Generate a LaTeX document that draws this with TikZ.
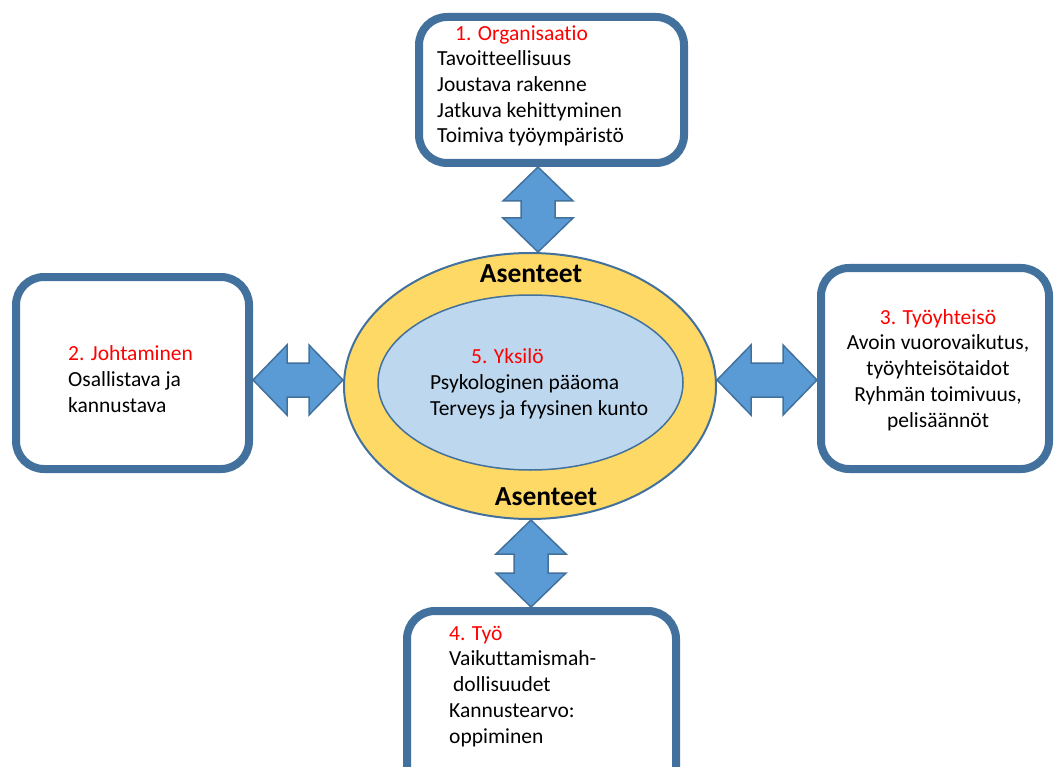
\documentclass[tikz,border=0pt]{standalone}
\usepackage{fontspec}
\setmainfont[Ligatures=NoCommon]{Carlito}
\usetikzlibrary{calc,shapes.geometric}

\definecolor{boxline}{HTML}{41719C}
\definecolor{arrowblue}{HTML}{5B9BD5}
\definecolor{asenne}{HTML}{FFD966}
\definecolor{yksilo}{HTML}{BDD7EE}

\tikzset{
  area/.style={draw=boxline, line width=8pt, rounded corners=28pt, fill=white, inner sep=0pt},
  txt/.style={font=\fontsize{21.5}{25.7}\selectfont, align=left, inner sep=0pt},
  bigtxt/.style={font=\fontsize{27.5}{30}\selectfont\bfseries, inner sep=0pt},
  twoarrow/.style={fill=arrowblue, draw=boxline, line width=1.5pt, line join=miter},
}

% double headed block arrow from #1 to #2
\newcommand\twoway[2]{%
  \path[twoarrow] (#1)
    -- ($($(#1)!34pt!(#2)$)!35pt!90:(#2)$)
    -- ($($(#1)!34pt!(#2)$)!17pt!90:(#2)$)
    -- ($($(#2)!34pt!(#1)$)!17pt!90:(#2)$)
    -- ($($(#2)!34pt!(#1)$)!35pt!90:(#2)$)
    -- (#2)
    -- ($($(#2)!34pt!(#1)$)!35pt!-90:(#2)$)
    -- ($($(#2)!34pt!(#1)$)!17pt!-90:(#2)$)
    -- ($($(#1)!34pt!(#2)$)!17pt!-90:(#2)$)
    -- ($($(#1)!34pt!(#2)$)!35pt!-90:(#2)$)
    -- cycle;}

\begin{document}
\begin{tikzpicture}[x=1pt,y=-1pt]
\useasboundingbox (0,0) rectangle (1054,767);
\clip (0,0) rectangle (1054,767);

% the four areas round the individual
\node[area, minimum width=265pt, minimum height=146pt] (org) at (551.5,90) {};
\node[area, minimum width=233pt, minimum height=192pt] (lead) at (132.5,373) {};
\node[area, minimum width=228pt, minimum height=201pt] (team) at (935,368.5) {};
\node[area, minimum width=269pt, minimum height=200pt] (work) at (541.5,711) {};

% individual
\node[ellipse, draw=boxline, line width=2pt, fill=asenne, minimum width=372pt, minimum height=266pt, inner sep=0pt] (ind) at (530,386) {};
\node[ellipse, draw=boxline, line width=1.5pt, fill=yksilo, minimum width=305pt, minimum height=175pt, inner sep=0pt] (core) at (530.5,382.5) {};

% arrows
\twoway{org.south -| 538,0}{ind.north -| 538,0}
\twoway{lead.east |- 0,380}{ind.west |- 0,380}
\twoway{ind.east |- 0,380}{team.west |- 0,380}
\twoway{ind.south -| 531,0}{work.north -| 531,0}

% texts (base = last line)
\node[txt, anchor=base west] (orgtxt) at (437,143)
  {\hspace*{18pt}\textcolor{red}{1. Organisaatio}\\Tavoitteellisuus\\Joustava rakenne\\Jatkuva kehittyminen\\Toimiva työympäristö};
\node[txt, anchor=base west] (leadtxt) at (68,412)
  {\textcolor{red}{2. Johtaminen}\\Osallistava ja\\kannustava};
\node[txt, align=center, anchor=base] (teamtxt) at (938,427)
  {\textcolor{red}{3. Työyhteisö}\\Avoin vuorovaikutus,\\työyhteisötaidot\\Ryhmän toimivuus,\\pelisäännöt};
\node[txt, anchor=base west] (worktxt) at (449,743)
  {\textcolor{red}{4. Työ}\\Vaikuttamismah-\\\hspace*{4pt}dollisuudet\\Kannustearvo:\\oppiminen};
\node[txt, anchor=base west] (coretxt) at (430,415)
  {\hspace*{41pt}\textcolor{red}{5. Yksilö}\\Psykologinen pääoma\\Terveys ja fyysinen kunto};
\node[bigtxt, anchor=base] (att1) at (531,283) {Asenteet};
\node[bigtxt, anchor=base] (att2) at (546,505) {Asenteet};
\end{tikzpicture}
\end{document}
